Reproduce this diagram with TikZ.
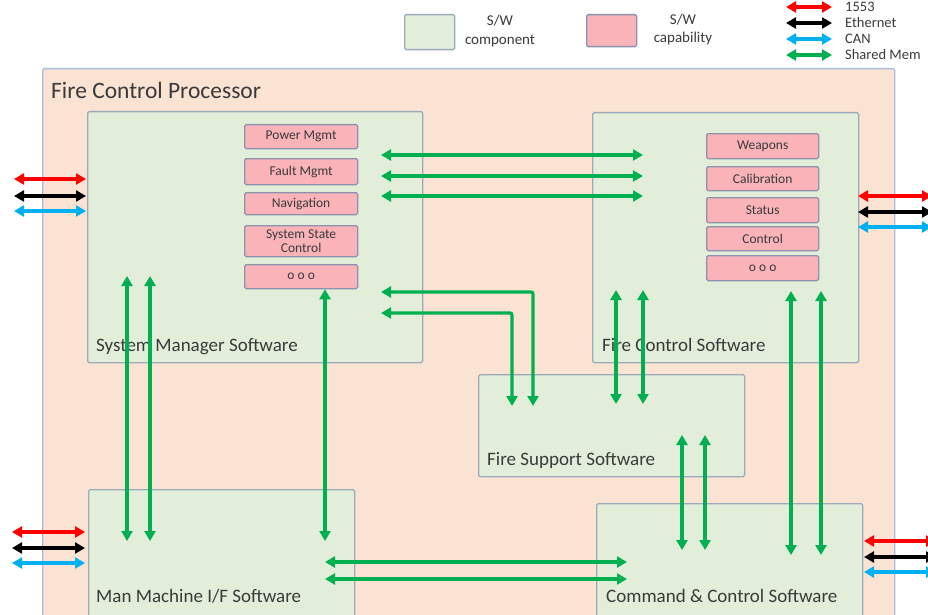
\documentclass[tikz,border=0pt]{standalone}
\usepackage{fontspec}
\setmainfont{Carlito}
\usetikzlibrary{arrows.meta}
\definecolor{procfill}{HTML}{FBE3D4}
\definecolor{procline}{HTML}{A8BCD4}
\definecolor{compfill}{HTML}{E2EED9}
\definecolor{compline}{HTML}{9AAABB}
\definecolor{capfill}{HTML}{F9B3B9}
\definecolor{capline}{HTML}{8D93AE}
\definecolor{shmgreen}{HTML}{00B050}
\definecolor{canblue}{HTML}{00B0F0}
\definecolor{busred}{HTML}{FF0000}
\definecolor{txtgray}{HTML}{3A3A3A}
\tikzset{
  box/.style={draw, line width=1.3pt, rounded corners=1.5pt, anchor=north west, inner sep=0pt},
  proc/.style={box, fill=procfill, draw=procline},
  comp/.style={box, fill=compfill, draw=compline},
  capbox/.style={box, fill=capfill, draw=capline, font=\fontsize{13.5}{15.5}\selectfont, text=txtgray, align=center},
  lbl/.style={anchor=base west, inner sep=0pt, text=txtgray, font=\fontsize{19}{20}\selectfont},
  link/.style={line width=3.2pt, {Triangle[length=10pt,width=11pt]}-{Triangle[length=10pt,width=11pt]}, rounded corners=2pt},
  shm/.style={link, draw=shmgreen},
  bus1553/.style={link, draw=busred},
  eth/.style={link, draw=black},
  can/.style={link, draw=canblue},
  legtxt/.style={anchor=west, inner sep=0pt, text=txtgray, font=\fontsize{14.5}{15}\selectfont},
}
\begin{document}
\begin{tikzpicture}[x=1pt,y=-1pt]
\useasboundingbox (0,0) rectangle (928,615);

% ---------- legend ----------
\node[comp, minimum width=50, minimum height=35] (lgcomp) at (404,14) {};
\node[align=center, text=txtgray, font=\fontsize{15}{19}\selectfont] (lgcomptxt) at (500,31) {S/W\\component};
\node[capbox, minimum width=50, minimum height=32] (lgcap) at (586,14) {};
\node[align=center, text=txtgray, font=\fontsize{15}{18}\selectfont] (lgcaptxt) at (683,30) {S/W\\capability};

\coordinate (l1a) at (786,7);  \coordinate (l1b) at (832,7);
\coordinate (l2a) at (786,23); \coordinate (l2b) at (832,23);
\coordinate (l3a) at (786,39); \coordinate (l3b) at (832,39);
\coordinate (l4a) at (786,55); \coordinate (l4b) at (832,55);
\draw[bus1553] (l1a) -- (l1b);
\draw[eth] (l2a) -- (l2b);
\draw[can] (l3a) -- (l3b);
\draw[shm] (l4a) -- (l4b);
\node[legtxt] (lg1) at (845,7) {1553};
\node[legtxt] (lg2) at (845,23) {Ethernet};
\node[legtxt] (lg3) at (845,39) {CAN};
\node[legtxt] (lg4) at (845,55) {Shared Mem};

% ---------- processor ----------
\node[proc, minimum width=852, minimum height=580] (fcp) at (42,68) {};
\node[anchor=base west, inner sep=0pt, text=txtgray, font=\fontsize{23.5}{24}\selectfont] (fcptxt) at (51,99) {Fire Control Processor};

% ---------- software components ----------
\node[comp, minimum width=335, minimum height=251] (sm) at (87,111) {};
\node[lbl] (smtxt) at (96,351) {System Manager Software};
\node[comp, minimum width=266, minimum height=250] (fc) at (592,112) {};
\node[lbl] (fctxt) at (602,351) {Fire Control Software};
\node[comp, minimum width=266, minimum height=102] (fs) at (478,374) {};
\node[lbl] (fstxt) at (487,465) {Fire Support Software};
\node[comp, minimum width=266, minimum height=140] (mmi) at (88,489) {};
\node[lbl] (mmitxt) at (96,602) {Man Machine I/F Software};
\node[comp, minimum width=266, minimum height=125] (cc) at (596,503) {};
\node[lbl] (cctxt) at (606,602) {Command \& Control Software};

% ---------- capabilities ----------
\node[capbox, minimum width=113, minimum height=24] (pwr) at (244,124) {Power Mgmt};
\node[capbox, minimum width=113, minimum height=26] (flt) at (244,158) {Fault Mgmt};
\node[capbox, minimum width=113, minimum height=22] (nav) at (244,192) {Navigation};
\node[capbox, minimum width=113, minimum height=31] (ssc) at (244,225) {System State\\[-1pt]Control};
\node[capbox, minimum width=113, minimum height=24] (smx) at (244,264) {o o o};

\node[capbox, minimum width=112, minimum height=25] (wpn) at (706,133) {Weapons};
\node[capbox, minimum width=112, minimum height=24] (cal) at (706,166) {Calibration};
\node[capbox, minimum width=112, minimum height=25] (sts) at (706,197) {Status};
\node[capbox, minimum width=112, minimum height=24] (ctl) at (706,226) {Control};
\node[capbox, minimum width=112, minimum height=25] (fcx) at (706,255) {o o o};

% ---------- external buses ----------
\coordinate (e1a) at (14,179);  \coordinate (e1b) at (86,179);
\coordinate (e2a) at (14,196);  \coordinate (e2b) at (86,196);
\coordinate (e3a) at (14,211);  \coordinate (e3b) at (86,211);
\draw[bus1553] (e1a) -- (e1b);
\draw[eth] (e2a) -- (e2b);
\draw[can] (e3a) -- (e3b);

\coordinate (f1a) at (858,196); \coordinate (f1b) at (932,196);
\coordinate (f2a) at (858,212); \coordinate (f2b) at (932,212);
\coordinate (f3a) at (858,227); \coordinate (f3b) at (932,227);
\draw[bus1553] (f1a) -- (f1b);
\draw[eth] (f2a) -- (f2b);
\draw[can] (f3a) -- (f3b);

\coordinate (g1a) at (12,532);  \coordinate (g1b) at (85,532);
\coordinate (g2a) at (12,548);  \coordinate (g2b) at (85,548);
\coordinate (g3a) at (12,563);  \coordinate (g3b) at (85,563);
\draw[bus1553] (g1a) -- (g1b);
\draw[eth] (g2a) -- (g2b);
\draw[can] (g3a) -- (g3b);

\coordinate (h1a) at (864,541); \coordinate (h1b) at (936,541);
\coordinate (h2a) at (864,557); \coordinate (h2b) at (936,557);
\coordinate (h3a) at (864,572); \coordinate (h3b) at (936,572);
\draw[bus1553] (h1a) -- (h1b);
\draw[eth] (h2a) -- (h2b);
\draw[can] (h3a) -- (h3b);

% ---------- shared memory links ----------
% System Manager <-> Fire Control
\coordinate (s1a) at (381,155); \coordinate (s1b) at (643,155);
\coordinate (s2a) at (381,176); \coordinate (s2b) at (643,176);
\coordinate (s3a) at (381,196); \coordinate (s3b) at (643,196);
\draw[shm] (s1a) -- (s1b);
\draw[shm] (s2a) -- (s2b);
\draw[shm] (s3a) -- (s3b);

% System Manager <-> Fire Support
\coordinate (t1a) at (381,292); \coordinate (t1b) at (533,406);
\coordinate (t2a) at (381,313); \coordinate (t2b) at (512,406);
\draw[shm] (t1a) -| (t1b);
\draw[shm] (t2a) -| (t2b);

% Fire Control <-> Fire Support
\coordinate (u1a) at (616,290); \coordinate (u1b) at (616,404);
\coordinate (u2a) at (643,290); \coordinate (u2b) at (643,404);
\draw[shm] (u1a) -- (u1b);
\draw[shm] (u2a) -- (u2b);

% Fire Control <-> Command & Control
\coordinate (v1a) at (791,291); \coordinate (v1b) at (791,555);
\coordinate (v2a) at (821,291); \coordinate (v2b) at (821,555);
\draw[shm] (v1a) -- (v1b);
\draw[shm] (v2a) -- (v2b);

% Fire Support <-> Command & Control
\coordinate (w1a) at (682,435); \coordinate (w1b) at (682,550);
\coordinate (w2a) at (705,435); \coordinate (w2b) at (705,550);
\draw[shm] (w1a) -- (w1b);
\draw[shm] (w2a) -- (w2b);

% System Manager <-> Man Machine I/F
\coordinate (x1a) at (127,276); \coordinate (x1b) at (127,541);
\coordinate (x2a) at (150,276); \coordinate (x2b) at (150,541);
\draw[shm] (x1a) -- (x1b);
\draw[shm] (x2a) -- (x2b);
\coordinate (x3b) at (325,541);
\draw[shm] (smx.south -| x3b) -- (x3b);

% Man Machine I/F <-> Command & Control
\coordinate (y1a) at (325,562); \coordinate (y1b) at (627,562);
\coordinate (y2a) at (325,579); \coordinate (y2b) at (627,579);
\draw[shm] (y1a) -- (y1b);
\draw[shm] (y2a) -- (y2b);
\end{tikzpicture}
\end{document}
